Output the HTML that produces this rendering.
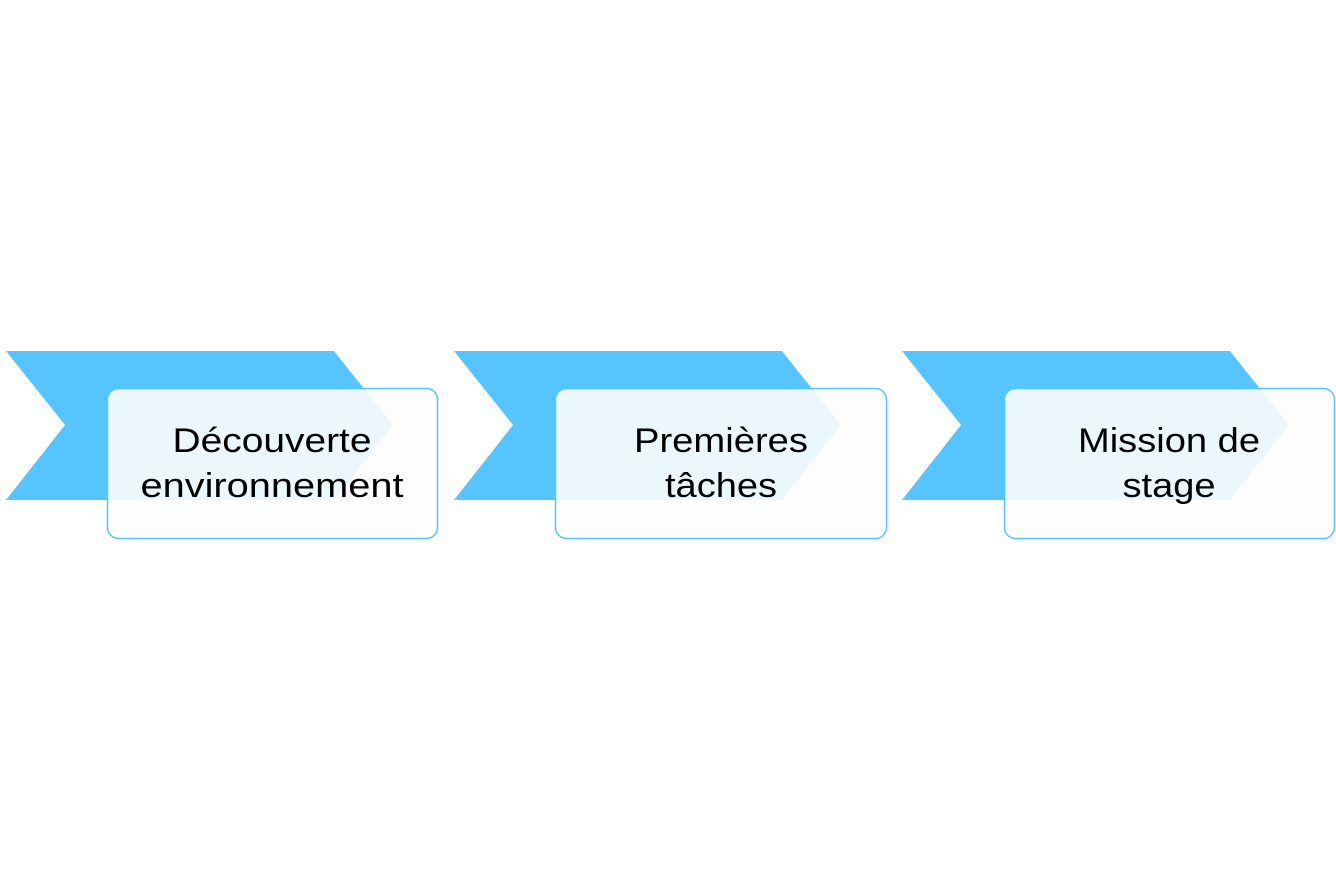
<!DOCTYPE html>
<html><head><meta charset="utf-8"><style>html,body{margin:0;padding:0;background:#fff}</style></head>
<body>
<svg width="1336" height="889" xmlns="http://www.w3.org/2000/svg" style="display:block">
<g font-family="Liberation Sans, sans-serif" font-size="34" text-anchor="middle" fill="#000">
<polygon points="6,351 334,351 393,425 334,500 6,500 65,425" fill="#56c4ff"/>
<rect x="107.5" y="388.5" width="330" height="150" rx="11" fill="#fdfdfd" fill-opacity="0.9" stroke="#56c4ff" stroke-width="1.5"/>
<text x="272" y="452" textLength="199" lengthAdjust="spacingAndGlyphs">Découverte</text>
<text x="272" y="497" textLength="263" lengthAdjust="spacingAndGlyphs">environnement</text>
<polygon points="454,351 782,351 841,425 782,500 454,500 513,425" fill="#56c4ff"/>
<rect x="555.5" y="388.5" width="331" height="150" rx="11" fill="#fdfdfd" fill-opacity="0.9" stroke="#56c4ff" stroke-width="1.5"/>
<text x="721" y="452" textLength="174" lengthAdjust="spacingAndGlyphs">Premières</text>
<text x="721" y="497" textLength="112" lengthAdjust="spacingAndGlyphs">tâches</text>
<polygon points="902,351 1230,351 1289,425 1230,500 902,500 961,425" fill="#56c4ff"/>
<rect x="1004.5" y="388.5" width="330" height="150" rx="11" fill="#fdfdfd" fill-opacity="0.9" stroke="#56c4ff" stroke-width="1.5"/>
<text x="1169" y="452" textLength="182" lengthAdjust="spacingAndGlyphs">Mission de</text>
<text x="1169" y="497" textLength="93" lengthAdjust="spacingAndGlyphs">stage</text>
</g>
</svg>
</body></html>
